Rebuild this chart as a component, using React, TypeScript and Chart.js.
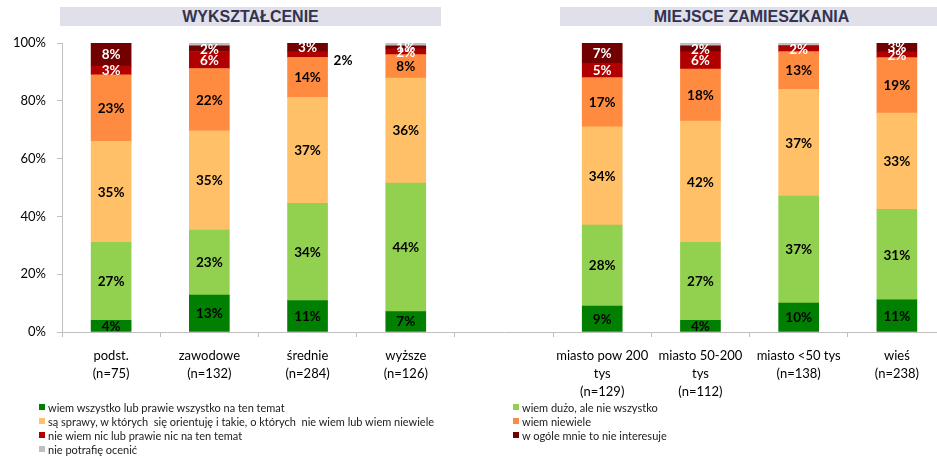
import React, { useEffect, useRef } from "react";
import { Chart, registerables } from "chart.js";
Chart.register(...registerables);

const categories: string[][] = [
  ["podst.", "(n=75)"],
  ["zawodowe", "(n=132)"],
  ["średnie", "(n=284)"],
  ["wyższe", "(n=126)"],
  [""],
  ["miasto pow 200", "tys", "(n=129)"],
  ["miasto 50-200", "tys", "(n=112)"],
  ["miasto <50 tys", "(n=138)"],
  ["wieś", "(n=238)"],
];

const seriesNames = [
  "wiem wszystko lub prawie wszystko na ten temat",
  "wiem dużo, ale nie wszystko",
  "są sprawy, w których  się orientuję i takie, o których  nie wiem lub wiem niewiele",
  "wiem niewiele",
  "nie wiem nic lub prawie nic na ten temat",
  "w ogóle mnie to nie interesuje",
  "nie potrafię ocenić",
];

const wiemWszystko = [4, 13, 11, 7, null, 9, 4, 10, 11];
const wiemDuzo = [27, 23, 34, 44, null, 28, 27, 37, 31];
const saSprawy = [35, 35, 37, 36, null, 34, 42, 37, 33];
const wiemNiewiele = [23, 22, 14, 8, null, 17, 18, 13, 19];
const nieWiemNic = [3, 6, 2, 2, null, 5, 6, 2, 2];
const wOgole = [8, 2, 3, 1, null, 7, 2, 0, 3];
const niePotrafie = [0, 1, 0, 1, null, 0, 1, 1, 0];

const yTicks = [0, 20, 40, 60, 80, 100];

const series = [wiemWszystko, wiemDuzo, saSprawy, wiemNiewiele, nieWiemNic, wOgole, niePotrafie];
const colors = ["#007F00", "#92D050", "#FFC068", "#FF8B40", "#B00000", "#720000", "#BFBFBF"];
const labelColors = ["#000", "#000", "#000", "#000", "#fff", "#fff", null];

const OUTSIDE = { dataset: 4, index: 2 };

const totals = categories.map((_, i) =>
  series.reduce((s, arr) => s + (arr[i] == null ? 0 : (arr[i] as number)), 0)
);

const labelPlugin = {
  id: "segLabels",
  afterDatasetsDraw(chart: any) {
    const ctx = chart.ctx;
    ctx.save();
    ctx.font = "bold 13.5px Lato";
    ctx.textBaseline = "middle";
    series.forEach((arr, di) => {
      const col = labelColors[di];
      if (!col) return;
      const meta = chart.getDatasetMeta(di);
      meta.data.forEach((el: any, i: number) => {
        const raw = arr[i];
        if (raw == null || raw === 0) return;
        const p = el.getProps(["x", "y", "base", "width"], true);
        const text = raw + "%";
        const cy = (p.y + p.base) / 2;
        if (di === OUTSIDE.dataset && i === OUTSIDE.index) {
          ctx.fillStyle = "#000";
          ctx.textAlign = "left";
          ctx.fillText(text, p.x + p.width / 2 + 6, cy + 6);
        } else {
          ctx.fillStyle = col;
          ctx.textAlign = "center";
          ctx.fillText(text, p.x, cy + 0.5);
        }
      });
    });
    ctx.restore();
  },
};

export default function App() {
  const ref = useRef<HTMLCanvasElement | null>(null);

  useEffect(() => {
    let chart: Chart | null = null;
    let cancelled = false;
    const make = () => {
      if (cancelled || !ref.current) return;
      chart = new Chart(ref.current, {
        type: "bar",
        data: {
          labels: categories,
          datasets: series.map((arr, di) => ({
            label: seriesNames[di],
            data: arr.map((v, i) => (v == null ? null : (v / totals[i]) * 100)),
            backgroundColor: colors[di],
            borderWidth: 0,
            barThickness: 40,
            stack: "s",
          })),
        },
        options: {
          responsive: false,
          animation: false,
          layout: { padding: { top: 43, right: 14, left: 0, bottom: 0 } },
          plugins: { legend: { display: false }, tooltip: { enabled: false } },
          scales: {
            x: {
              stacked: true,
              offset: true,
              grid: {
                offset: true,
                drawOnChartArea: false,
                drawTicks: true,
                tickLength: 5,
                color: "#BFBFBF",
              },
              border: { color: "#BFBFBF" },
              ticks: {
                font: { family: "Lato", size: 13, lineHeight: "18px" } as any,
                color: "#000",
                padding: 10,
                maxRotation: 0,
                autoSkip: false,
              },
              afterFit: (s: any) => {
                s.height = 456 - 332;
              },
            },
            y: {
              stacked: true,
              min: 0,
              max: 100,
              afterBuildTicks: (s: any) => {
                s.ticks = yTicks.map((v) => ({ value: v }));
              },
              grid: {
                drawOnChartArea: false,
                drawTicks: true,
                tickLength: 5,
                color: "#BFBFBF",
              },
              border: { color: "#BFBFBF" },
              ticks: {
                font: { family: "Lato", size: 13 },
                color: "#000",
                padding: 11,
                callback: (v: any) => v + "%",
              },
              afterFit: (s: any) => {
                s.width = 62;
              },
            },
          },
        },
        plugins: [labelPlugin],
      });
    };
    const fonts: any = (document as any).fonts;
    if (fonts && fonts.load) {
      Promise.all([
        fonts.load("13px Lato"),
        fonts.load("bold 13px Lato"),
        fonts.load("bold 16px 'Liberation Sans'"),
      ])
        .catch(() => {})
        .then(make);
    } else {
      make();
    }
    return () => {
      cancelled = true;
      if (chart) chart.destroy();
    };
  }, []);

  const titleStyle: React.CSSProperties = {
    position: "absolute",
    top: 7,
    height: 19,
    lineHeight: "19px",
    background: "#E0E0EA",
    color: "#333350",
    fontFamily: "'Liberation Sans', Arial, sans-serif",
    fontWeight: "bold",
    fontSize: 16,
    textAlign: "center",
    whiteSpace: "nowrap",
  };

  return (
    <div
      style={{
        position: "fixed",
        left: 0,
        top: 0,
        width: 937,
        height: 456,
        overflow: "hidden",
        background: "#fff",
      }}
    >
      <div style={{ ...titleStyle, left: 60, width: 381 }}>WYKSZTAŁCENIE</div>
      <div style={{ ...titleStyle, left: 560, width: 383 }}>MIEJSCE ZAMIESZKANIA</div>
      <canvas
        ref={ref}
        width={960}
        height={456}
        style={{ position: "absolute", left: 0, top: 0, width: 960, height: 456 }}
      />
      <div
        style={{
          position: "absolute",
          left: 39,
          top: 400,
          display: "grid",
          gridTemplateColumns: "474px auto",
          gridAutoRows: "14px",
          fontFamily: "Lato, sans-serif",
          fontSize: 11,
          color: "#1a1a1a",
        }}
      >
        {seriesNames.map((n, i) => (
          <div key={i} style={{ display: "flex", alignItems: "center", whiteSpace: "pre" }}>
            <span
              style={{
                display: "inline-block",
                width: 6,
                height: 6,
                background: colors[i],
                marginRight: 3,
                flex: "0 0 auto",
              }}
            />
            <span>{n}</span>
          </div>
        ))}
      </div>
    </div>
  );
}
